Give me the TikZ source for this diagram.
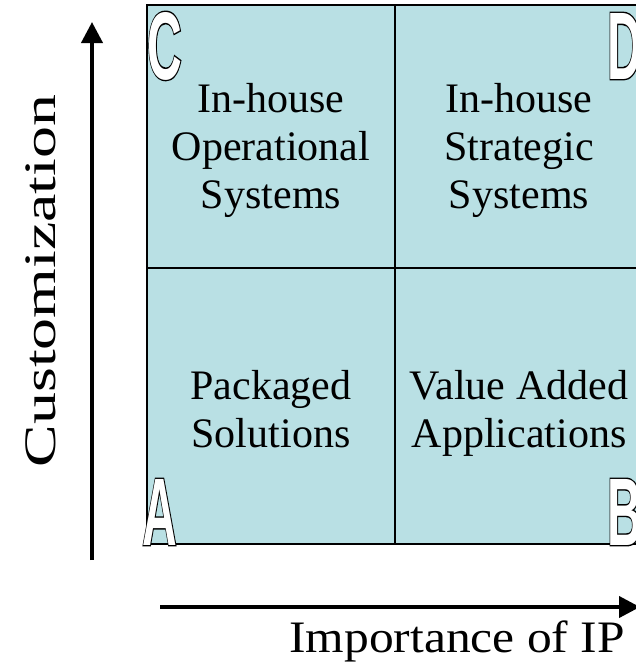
\documentclass[tikz,border=0pt]{standalone}
\usepackage{fontspec}
\setmainfont{Liberation Serif}
\newfontface\lettback{Liberation Sans Bold}[FakeBold=3]
\newfontface\lettfront{Liberation Sans Bold}
\usetikzlibrary{arrows.meta}
\definecolor{cellblue}{RGB}{185,224,228}
\newcommand{\outletter}[1]{\scalebox{0.5}[1]{\fontsize{96}{96}\selectfont\makebox[0pt][l]{\lettback #1}{\color{white}\lettfront #1}}}
\begin{document}
\begin{tikzpicture}[x=1pt,y=-1pt,
  cell/.style={draw=black, line width=1.5pt, fill=cellblue, minimum width=248pt, inner sep=0pt},
  celltext/.style={anchor=north, align=center, inner sep=0pt, font=\fontsize{42}{48}\selectfont},
  corner/.style={inner sep=0pt},
  axis/.style={line width=4pt, -{Triangle[length=21pt,width=21pt]}},
  axislabel/.style={inner sep=0pt, font=\fontsize{45}{48}\selectfont}]
\useasboundingbox (0,0) rectangle (636,664);
\clip (0,0) rectangle (636,664);
\node[cell, minimum height=263pt] (cellC) at (271,136.5) {};
\node[cell, minimum height=263pt] (cellD) at (519,136.5) {};
\node[cell, minimum height=276pt] (cellA) at (271,406) {};
\node[cell, minimum height=276pt] (cellB) at (519,406) {};
\node[celltext] (textC) at (271,83) {In-house\\Operational\\Systems};
\node[celltext] (textD) at (519,83) {In-house\\Strategic\\Systems};
\node[celltext] (textA) at (271,370) {Packaged\\Solutions};
\node[celltext] (textB) at (519,370) {Value Added\\Applications};
\node[corner, anchor=base west] (letC) at (147,79) {\outletter{C}};
\node[corner, anchor=base west] (letD) at (607,79) {\outletter{D}};
\node[corner, anchor=base west] (letA) at (142,545) {\outletter{A}};
\node[corner, anchor=base west] (letB) at (607,545) {\outletter{B}};
\coordinate (ybot) at (92,560);
\coordinate (ytop) at (92,22);
\coordinate (xleft) at (160,607);
\coordinate (xright) at (640,607);
\draw[axis] (ybot) -- (ytop);
\draw[axis] (xleft) -- (xright);
\node[axislabel, rotate=90, anchor=base] (ylabel) at (55,281) {\scalebox{1.42}[1]{Customization}};
\node[axislabel, anchor=base east] (xlabel) at (625,652) {\scalebox{1.1}[1]{Importance of IP}};
\end{tikzpicture}
\end{document}
